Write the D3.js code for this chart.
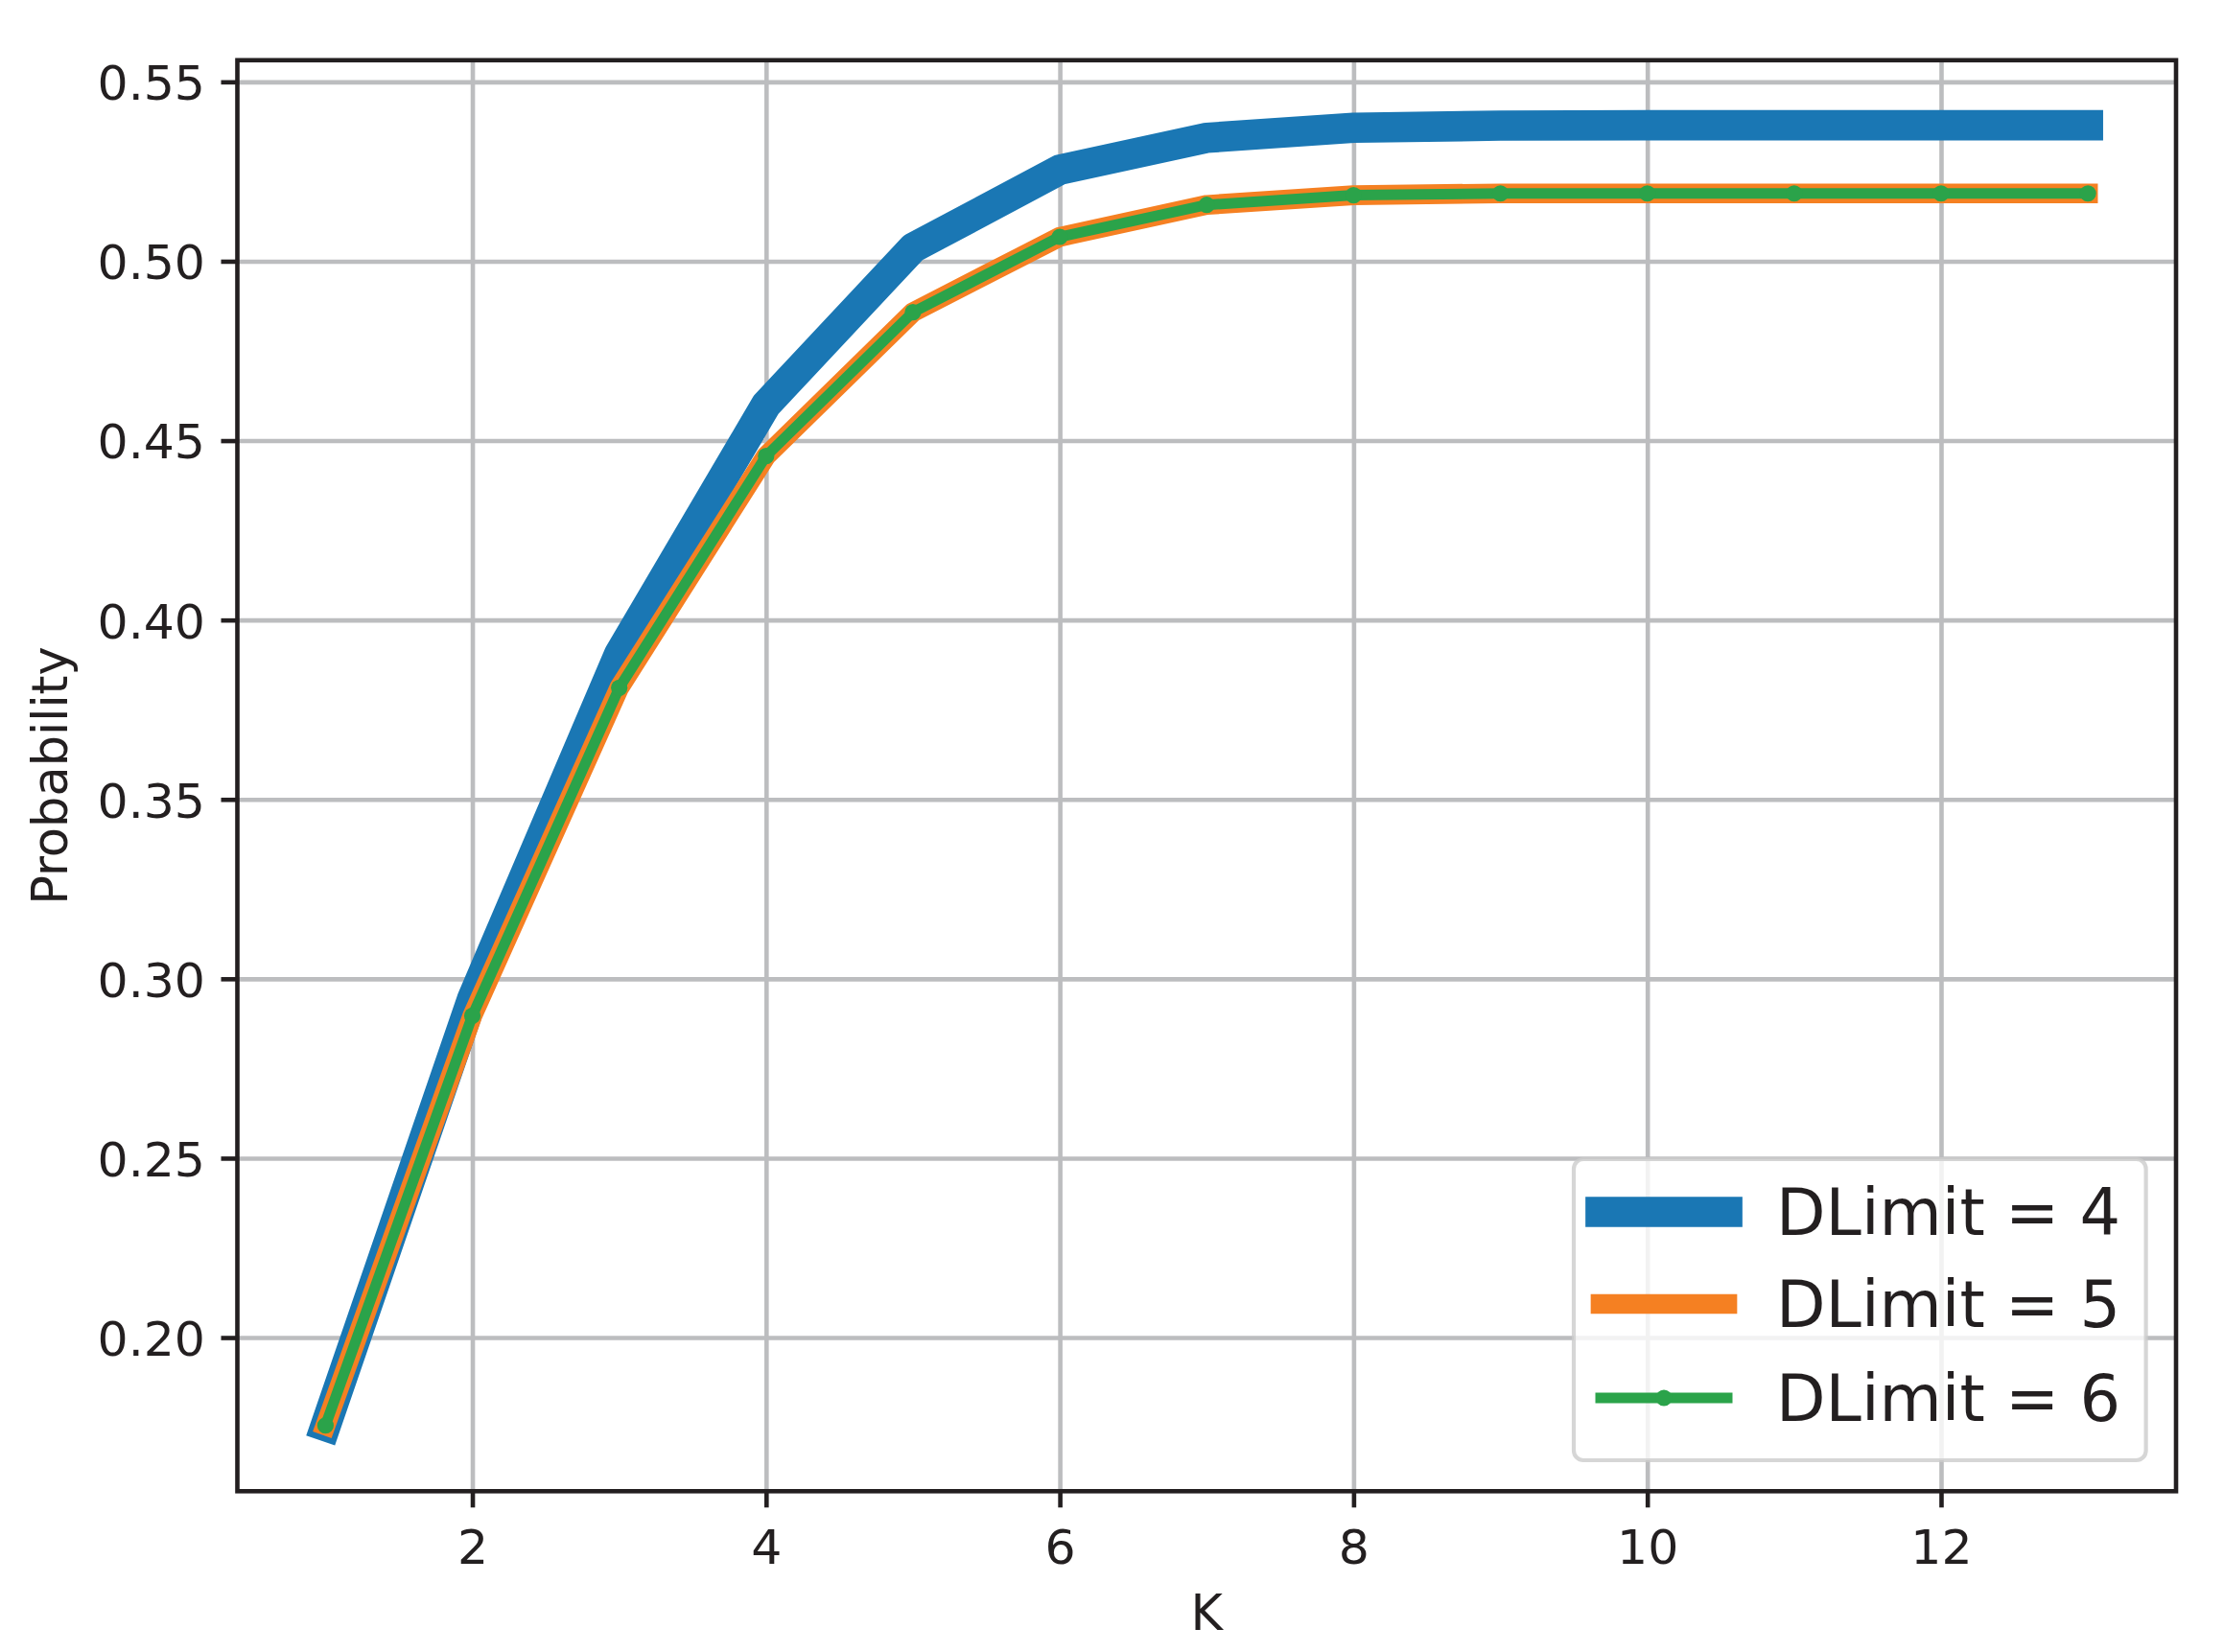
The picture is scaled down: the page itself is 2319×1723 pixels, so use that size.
<!DOCTYPE html>
<html>
<head>
<meta charset="utf-8">
<script src="https://cdn.jsdelivr.net/npm/d3@7"></script>
<style>
  html, body { margin: 0; padding: 0; background: #ffffff; }
  svg { display: block; }
  text { font-family: "DejaVu Sans", sans-serif; fill: #231f20; }
</style>
</head>
<body>
<svg id="chart" width="2319" height="1723"></svg>
<script>
// ---- data ----
const kValues = [1, 2, 3, 4, 5, 6, 7, 8, 9, 10, 11, 12, 13];
const dlimit4 = [0.1753, 0.2945, 0.3905, 0.4600, 0.5037, 0.5255, 0.5344, 0.5372, 0.5378, 0.5379, 0.5379, 0.5379, 0.5379];
const dlimit5 = [0.1755, 0.2897, 0.3811, 0.4457, 0.4858, 0.5068, 0.5157, 0.5184, 0.5189, 0.5189, 0.5189, 0.5189, 0.5189];
const dlimit6 = [0.1755, 0.2897, 0.3811, 0.4457, 0.4858, 0.5068, 0.5157, 0.5184, 0.5189, 0.5189, 0.5189, 0.5189, 0.5189];
const seriesNames = ["DLimit = 4", "DLimit = 5", "DLimit = 6"];
const xTicks = [2, 4, 6, 8, 10, 12];
const yTicks = [0.20, 0.25, 0.30, 0.35, 0.40, 0.45, 0.50, 0.55];
const xLabel = "K";
const yLabel = "Probability";

// ---- styles ----
const colors = ["#1a77b4", "#f58022", "#2ba34a"];
const widths = [31.7, 20.7, 11];
const ink = "#231f20";
const gridColor = "#bcbdbf";

const svg = d3.select("#chart");
const pL = 247.5, pR = 2269, pT = 62.8, pB = 1555.3;
const W = pR - pL, H = pB - pT;

// matplotlib-like 5% margins
const xMin = d3.min(kValues), xMax = d3.max(kValues);
const allY = dlimit4.concat(dlimit5, dlimit6);
const yMin = d3.min(allY), yMax = d3.max(allY);
const xPad = (xMax - xMin) * 0.05, yPad = (yMax - yMin) * 0.05;

const x = d3.scaleLinear().domain([xMin - xPad, xMax + xPad]).range([0, W]);
const y = d3.scaleLinear().domain([yMin - yPad, yMax + yPad]).range([H, 0]);

const g = svg.append("g").attr("transform", `translate(${pL},${pT})`);

// grid
const gx = g.append("g").attr("transform", `translate(0,${H})`)
  .call(d3.axisBottom(x).tickValues(xTicks).tickSize(-H).tickFormat(""));
const gy = g.append("g")
  .call(d3.axisLeft(y).tickValues(yTicks).tickSize(-W).tickFormat(""));
[gx, gy].forEach(a => {
  a.select(".domain").remove();
  a.selectAll("line").attr("stroke", gridColor).attr("stroke-width", 4.6);
});

// lines
const series = [dlimit4, dlimit5, dlimit6];
const line = d3.line().x((d, i) => x(kValues[i])).y(d => y(d));
series.forEach((s, si) => {
  g.append("path")
    .datum(s)
    .attr("fill", "none")
    .attr("stroke", colors[si])
    .attr("stroke-width", widths[si])
    .attr("stroke-linecap", "square")
    .attr("stroke-linejoin", "round")
    .attr("d", line);
});
// markers for DLimit = 6
g.append("g").selectAll("circle")
  .data(dlimit6)
  .join("circle")
  .attr("cx", (d, i) => x(kValues[i]))
  .attr("cy", d => y(d))
  .attr("r", 8.6)
  .attr("fill", colors[2]);

// axes
const ax = g.append("g").attr("transform", `translate(0,${H})`)
  .call(d3.axisBottom(x).tickValues(xTicks).tickSize(17).tickFormat(d3.format("d")));
const ay = g.append("g")
  .call(d3.axisLeft(y).tickValues(yTicks).tickSize(17).tickFormat(d3.format(".2f")));
[ax, ay].forEach(a => {
  a.select(".domain").remove();
  a.selectAll("line").attr("stroke", ink).attr("stroke-width", 4.6);
  a.selectAll("text").attr("font-size", 50.5).attr("fill", ink)
    .style("font-family", '"DejaVu Sans", sans-serif');
});
ax.selectAll("text").attr("y", 75.3).attr("dy", null);
ay.selectAll("text").attr("x", -33.5).attr("dy", "0.3645em");

// spines
g.append("rect")
  .attr("x", 0).attr("y", 0).attr("width", W).attr("height", H)
  .attr("fill", "none").attr("stroke", ink).attr("stroke-width", 4.6);

// axis labels
svg.append("text")
  .attr("x", pL + W / 2).attr("y", 1700)
  .attr("text-anchor", "middle").attr("font-size", 51)
  .text(xLabel);
svg.append("text")
  .attr("transform", `translate(69.5,${pT + H / 2}) rotate(-90)`)
  .attr("text-anchor", "middle").attr("font-size", 51)
  .text(yLabel);

// legend
const lg = svg.append("g");
lg.append("rect")
  .attr("x", 1641).attr("y", 1209).attr("width", 596.6).attr("height", 314)
  .attr("rx", 10).attr("ry", 10)
  .attr("fill", "#ffffff").attr("fill-opacity", 0.8)
  .attr("stroke", "#cccccc").attr("stroke-opacity", 0.8).attr("stroke-width", 4.2);
const rowBase = [1288, 1384, 1482];
seriesNames.forEach((name, i) => {
  const cy = rowBase[i] - 24;
  lg.append("line")
    .attr("x1", 1669).attr("x2", 1801).attr("y1", cy).attr("y2", cy)
    .attr("stroke", colors[i]).attr("stroke-width", widths[i])
    .attr("stroke-linecap", "square");
  if (i === 2) {
    lg.append("circle").attr("cx", 1735).attr("cy", cy).attr("r", 8.6).attr("fill", colors[i]);
  }
  lg.append("text")
    .attr("x", 1852).attr("y", rowBase[i])
    .attr("font-size", 67)
    .text(name);
});
</script>
</body>
</html>
